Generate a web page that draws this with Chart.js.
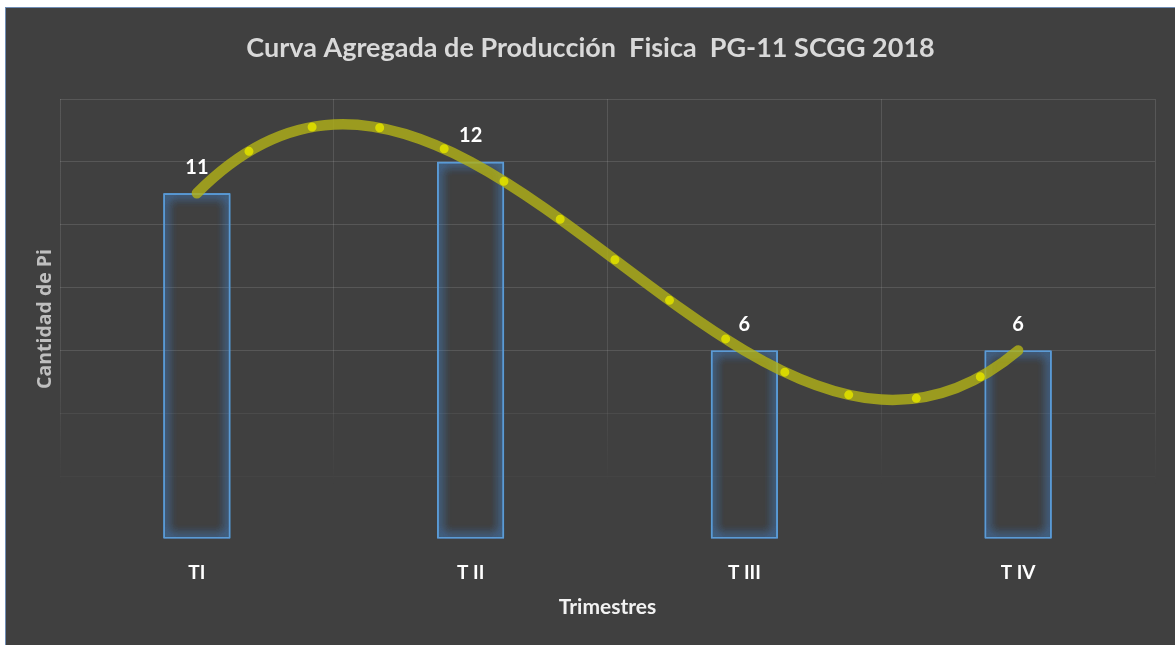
<!DOCTYPE html>
<html>
<head>
<meta charset="utf-8">
<script src="https://cdn.jsdelivr.net/npm/chart.js@4/dist/chart.umd.min.js"></script>
<style>
  html, body { margin: 0; padding: 0; background: #fff; }
  #wrap {
    position: absolute; left: 5px; top: 7px;
    width: 1169px; height: 637px;
    background: #404040;
    border-left: 1px solid #6f8db5; border-top: 1px solid #6f8db5;
  }
  canvas { display: block; }
</style>
</head>
<body>
<div id="wrap"><canvas id="c"></canvas></div>
<script>
// data
const trimestres = ['TI', 'T II', 'T III', 'T IV'];
const cantidadPi = [11, 12, 6, 6];
const yTicks = [0, 2, 4, 6, 8, 10, 12, 14];

const FONT = "Lato, 'Open Sans', sans-serif";

// slope of the polynomial through all points (Excel-like trendline), in pixels
function slopeAt(pts, i) {
  const n = pts.length, xi = pts[i].x;
  let s = 0;
  for (let j = 0; j < n; j++) {
    if (j === i) {
      let d = 0;
      for (let k = 0; k < n; k++) if (k !== i) d += 1 / (xi - pts[k].x);
      s += pts[i].y * d;
    } else {
      let num = 1, den = 1;
      for (let k = 0; k < n; k++) {
        if (k !== j) den *= (pts[j].x - pts[k].x);
        if (k !== i && k !== j) num *= (xi - pts[k].x);
      }
      s += pts[j].y * num / den;
    }
  }
  return s;
}

// bezier control points so the line follows the cubic trendline
const trendCurve = {
  id: 'trendCurve',
  beforeDatasetDraw(chart, args) {
    const meta = args.meta;
    if (meta.type !== 'line') return;
    const pts = meta.data, n = pts.length;
    for (let i = 0; i < n; i++) {
      const p = pts[i], m = slopeAt(pts, i);
      const hp = i > 0 ? (p.x - pts[i - 1].x) / 3 : 0;
      const hn = i < n - 1 ? (pts[i + 1].x - p.x) / 3 : 0;
      p.cp1x = p.x - hp; p.cp1y = p.y - hp * m;
      p.cp2x = p.x + hn; p.cp2y = p.y + hn * m;
    }
    meta.dataset._pointsUpdated = true;
  }
};

// blue glow round the bars (drawn a few times to make it thicker)
const barGlow = {
  id: 'barGlow',
  beforeDatasetDraw(chart, args) {
    if (args.meta.type !== 'bar') return;
    const ctx = chart.ctx;
    ctx.save();
    ctx.shadowColor = 'rgba(70,150,240,1)';
    ctx.shadowBlur = 11;
  },
  afterDatasetDraw(chart, args) {
    if (args.meta.type !== 'bar') return;
    const ctx = chart.ctx;
    args.meta.data.forEach(el => { el.draw(ctx); el.draw(ctx); });
    ctx.restore();
  }
};

// value labels above bars
const barLabels = {
  id: 'barLabels',
  afterDatasetsDraw(chart) {
    const meta = chart.getDatasetMeta(0), ctx = chart.ctx;
    ctx.save();
    ctx.font = 'bold 20px ' + FONT;
    ctx.fillStyle = '#ffffff';
    ctx.textAlign = 'center';
    ctx.textBaseline = 'middle';
    meta.data.forEach((bar, i) => {
      ctx.fillText(String(cantidadPi[i]), bar.x, bar.y - 26);
    });
    ctx.restore();
  }
};

function yGridColor(ctx) {
  const v = ctx.tick ? ctx.tick.value : 0;
  if (v <= 0) return 'rgba(0,0,0,0)';
  if (v <= 2) return 'rgba(255,255,255,0.025)';
  if (v <= 4) return 'rgba(255,255,255,0.06)';
  return 'rgba(255,255,255,0.12)';
}

function xGridColor(ctx) {
  const chart = ctx.chart, a = chart.chartArea;
  if (!a) return 'rgba(255,255,255,0.12)';
  const g = chart.ctx.createLinearGradient(0, a.top, 0, a.bottom);
  g.addColorStop(0, 'rgba(255,255,255,0.12)');
  g.addColorStop(0.6, 'rgba(255,255,255,0.1)');
  g.addColorStop(0.88, 'rgba(255,255,255,0)');
  g.addColorStop(1, 'rgba(255,255,255,0)');
  return g;
}

new Chart(document.getElementById('c'), {
  data: {
    labels: trimestres,
    datasets: [{
      type: 'bar',
      data: cantidadPi,
      backgroundColor: 'rgba(0,0,0,0)',
      borderColor: '#5b9bd5',
      borderWidth: 1.5,
      borderSkipped: false,
      categoryPercentage: 1,
      barPercentage: 0.245,
      order: 3
    }, {
      type: 'line',
      data: cantidadPi,
      borderColor: 'rgba(178,178,22,0.8)',
      borderWidth: 10.5,
      borderCapStyle: 'round',
      tension: 0.4,
      pointRadius: 0,
      fill: false,
      order: 2
    }, {
      type: 'line',
      data: cantidadPi,
      borderColor: 'rgba(220,220,0,0.95)',
      borderWidth: 9,
      borderCapStyle: 'round',
      borderDash: [0, 68],
      borderDashOffset: 1,
      tension: 0.4,
      pointRadius: 0,
      fill: false,
      order: 1
    }]
  },
  options: {
    responsive: true,
    maintainAspectRatio: false,
    animation: false,
    layout: { padding: { left: 20, right: 20, top: 0, bottom: 0 } },
    plugins: {
      legend: { display: false },
      tooltip: { enabled: false },
      title: {
        display: true,
        text: 'Curva Agregada de Producción  Fisica  PG-11 SCGG 2018',
        color: '#d9d9d9',
        font: { family: FONT, size: 27, weight: 'bold' },
        padding: { top: 24, bottom: 34.6 }
      }
    },
    scales: {
      x: {
        offset: true,
        grid: { color: xGridColor, drawTicks: false, offset: true },
        border: { display: false },
        ticks: { color: '#ffffff', padding: 22, font: { family: FONT, size: 19, weight: 'bold' } },
        title: {
          display: true, text: 'Trimestres', color: '#f2f2f2',
          font: { family: FONT, size: 21, weight: 'bold' },
          padding: { top: 0, bottom: 25 }
        },
        afterFit(s) { s.height = 106; }
      },
      y: {
        min: yTicks[0], max: yTicks[yTicks.length - 1],
        afterBuildTicks(s) { s.ticks = yTicks.map(v => ({ value: v })); },
        grid: { color: yGridColor, drawTicks: false },
        border: { display: false },
        ticks: { display: false },
        title: {
          display: true, text: 'Cantidad de Pi', color: '#bfbfbf',
          font: { family: "'Open Sans', sans-serif", size: 19.5, weight: 'bold' },
          padding: { top: 8, bottom: 0 }
        },
        afterFit(s) { s.width = 34; }
      }
    }
  },
  plugins: [trendCurve, barGlow, barLabels]
});
</script>
</body>
</html>
